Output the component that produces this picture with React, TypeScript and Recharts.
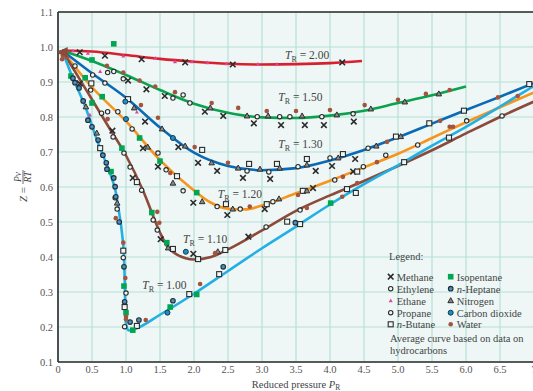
import * as React from 'react';
import { ComposedChart, Line, Scatter, XAxis, YAxis, CartesianGrid, ReferenceLine } from 'recharts';

const FONT = '"Liberation Serif", "DejaVu Serif", serif';
const INK = '#2b2b2b';
const PAPER = '#eef7f5';

const xTicks = [0, 0.5, 1, 1.5, 2, 2.5, 3, 3.5, 4, 4.5, 5, 5.5, 6, 6.5, 7];
const yTicks = [0.1, 0.2, 0.3, 0.4, 0.5, 0.6, 0.7, 0.8, 0.9, 1.0, 1.1];

// average curves, [P_R, Z]
const tr200 = [[0.06, 0.99], [0.5, 0.987], [1.0, 0.977], [1.5, 0.966], [2.0, 0.958], [2.5, 0.952], [3.0, 0.95], [3.5, 0.951], [4.0, 0.954], [4.47, 0.96]];
const tr150 = [[0.06, 0.99], [0.5, 0.96], [1.0, 0.92], [1.5, 0.877], [2.0, 0.838], [2.5, 0.812], [3.0, 0.799], [3.5, 0.797], [4.0, 0.804], [4.5, 0.818], [5.0, 0.84], [5.5, 0.862], [6.0, 0.887]];
const tr130 = [[0.06, 0.99], [0.5, 0.925], [1.0, 0.855], [1.5, 0.77], [2.0, 0.698], [2.5, 0.66], [3.0, 0.648], [3.5, 0.654], [4.0, 0.676], [4.5, 0.706], [5.0, 0.742], [5.5, 0.781], [6.0, 0.82], [6.5, 0.858], [7.0, 0.897]];
const tr120 = [[0.06, 0.99], [0.5, 0.885], [1.0, 0.788], [1.5, 0.677], [2.0, 0.59], [2.25, 0.555], [2.5, 0.538], [2.75, 0.536], [3.0, 0.547], [3.5, 0.582], [4.0, 0.618], [4.5, 0.656], [5.0, 0.695], [5.5, 0.74], [6.0, 0.785], [6.5, 0.828], [7.0, 0.87]];
const tr110 = [[0.06, 0.99], [0.25, 0.93], [0.5, 0.85], [0.75, 0.77], [1.0, 0.69], [1.25, 0.59], [1.5, 0.47], [1.6, 0.432], [1.75, 0.407], [2.0, 0.393], [2.25, 0.4], [2.5, 0.422], [3.0, 0.476], [3.5, 0.532], [4.0, 0.576], [4.5, 0.617], [5.0, 0.66], [5.5, 0.705], [6.0, 0.753], [6.5, 0.8], [7.0, 0.844]];
const tr100 = [[0.06, 0.99], [0.2, 0.92], [0.4, 0.83], [0.6, 0.72], [0.7, 0.672], [0.8, 0.62], [0.85, 0.585], [0.9, 0.525], [0.94, 0.47], [0.97, 0.4], [0.985, 0.3], [0.99, 0.25], [1.0, 0.208], [1.04, 0.19], [1.13, 0.194], [1.5, 0.235], [2.0, 0.295], [2.5, 0.36], [3.0, 0.425], [3.5, 0.487], [4.0, 0.55], [4.5, 0.608], [5.0, 0.662], [5.5, 0.718], [6.0, 0.772], [6.5, 0.83], [7.0, 0.889]];

// measured points per gas
const methane = [[0.32, 0.985], [0.69, 0.975], [1.23, 0.965], [1.87, 0.956], [2.57, 0.95], [4.18, 0.956], [1.03, 0.904], [1.3, 0.879], [1.57, 0.86], [2.16, 0.815], [2.43, 0.803], [2.88, 0.782], [3.28, 0.777], [3.63, 0.777], [3.91, 0.777], [4.35, 0.787], [0.32, 0.896], [1.28, 0.787], [1.77, 0.714], [2.06, 0.669], [2.34, 0.646], [2.72, 0.626], [3.12, 0.623], [3.79, 0.646], [4.03, 0.66], [4.37, 0.68], [0.8, 0.761], [1.25, 0.711], [1.47, 0.658], [1.99, 0.555], [2.49, 0.52], [3.04, 0.537], [3.75, 0.597], [4.34, 0.644], [1.1, 0.626], [1.51, 0.451], [1.99, 0.409], [2.8, 0.458]];
const ethylene = [[0.73, 0.927], [0.82, 0.93], [0.96, 0.909], [1.69, 0.854], [1.84, 0.863], [1.94, 0.84], [2.93, 0.801], [3.26, 0.801], [3.41, 0.801], [3.88, 0.801], [4.34, 0.809], [0.25, 0.946], [0.51, 0.92], [0.69, 0.897], [2.78, 0.646], [3.1, 0.643], [3.53, 0.658], [4.0, 0.683], [4.56, 0.711], [0.84, 0.569], [0.87, 0.537], [0.96, 0.398], [1.0, 0.297], [0.98, 0.201]];
const ethane = [[0.22, 0.989], [0.44, 0.982], [0.96, 0.974], [1.43, 0.968], [1.72, 0.958], [1.97, 0.958], [2.2, 0.955], [2.48, 0.952], [2.94, 0.951], [3.22, 0.951], [1.16, 0.814], [0.47, 0.806], [0.62, 0.93]];
const propane = [[0.48, 0.877], [0.64, 0.811], [0.73, 0.815], [0.88, 0.815], [1.09, 0.766], [1.47, 0.697], [1.59, 0.649], [1.84, 0.589], [2.34, 0.544], [2.68, 0.537], [3.16, 0.558], [4.07, 0.62], [4.49, 0.658], [4.82, 0.691], [5.29, 0.72], [6.01, 0.789], [0.81, 0.743], [0.97, 0.697], [1.06, 0.657], [1.23, 0.591], [1.4, 0.506], [1.46, 0.477], [3.06, 0.486], [3.56, 0.534], [6.53, 0.803]];
const nButane = [[0.49, 0.896], [1.03, 0.851], [2.12, 0.706], [2.81, 0.666], [3.22, 0.666], [3.66, 0.68], [4.19, 0.694], [4.97, 0.744], [5.46, 0.782], [5.97, 0.818], [6.93, 0.894], [1.75, 0.631], [2.47, 0.551], [3.07, 0.551], [3.6, 0.589], [4.4, 0.644], [1.16, 0.614], [1.69, 0.423], [2.06, 0.394], [2.46, 0.42], [4.25, 0.594], [4.38, 0.583], [0.62, 0.711], [0.96, 0.418], [0.98, 0.257], [1.16, 0.203], [1.93, 0.294], [2.37, 0.351], [3.37, 0.501], [3.56, 0.494], [5.09, 0.671], [5.75, 0.741]];
const isopentane = [[0.82, 1.009], [0.5, 0.963], [0.19, 0.917], [0.4, 0.912], [0.65, 0.858], [0.5, 0.84], [1.2, 0.74], [0.94, 0.711], [1.5, 0.674], [0.78, 0.644], [2.04, 0.584], [1.38, 0.527], [1.6, 0.441], [0.97, 0.317], [1.0, 0.241], [1.1, 0.191], [1.65, 0.257], [2.04, 0.293], [4.01, 0.554]];
const nHeptane = [[0.22, 0.911], [0.25, 0.898], [0.31, 0.883], [0.37, 0.846], [0.44, 0.791], [0.5, 0.772], [0.59, 0.734], [0.66, 0.691], [0.71, 0.669], [0.72, 0.651], [0.82, 0.626], [0.84, 0.601], [0.85, 0.572], [0.9, 0.5], [0.97, 0.372], [0.98, 0.272], [1.06, 0.214], [1.19, 0.22], [1.69, 0.275], [2.43, 0.372], [3.49, 0.498]];
const nitrogen = [[2.24, 0.826], [2.78, 0.803], [3.09, 0.803], [3.59, 0.803], [4.1, 0.806], [4.6, 0.823], [5.1, 0.843], [5.6, 0.866], [1.12, 0.826], [1.53, 0.766], [1.87, 0.717], [2.26, 0.669], [2.65, 0.654], [2.97, 0.651], [3.26, 0.654], [3.66, 0.663], [4.12, 0.683], [4.68, 0.717], [5.04, 0.744], [1.32, 0.714], [1.69, 0.611], [2.12, 0.558], [2.57, 0.537], [3.25, 0.566], [3.66, 0.589], [1.62, 0.426], [2.35, 0.415], [0.41, 0.829], [0.57, 0.754], [0.87, 0.554]];
const carbonDioxide = [[1.69, 0.74], [1.0, 0.794], [1.88, 0.415], [1.61, 0.241], [0.99, 0.844]];
const water = [[0.04, 0.985], [0.07, 0.975], [0.1, 0.985], [0.06, 0.965], [0.13, 0.97], [0.72, 0.946], [0.96, 0.927], [1.2, 0.904], [1.43, 0.887], [1.72, 0.871], [2.26, 0.84], [2.65, 0.826], [3.07, 0.817], [3.5, 0.817], [4.0, 0.82], [4.51, 0.834], [5.0, 0.849], [5.41, 0.866], [5.76, 0.877], [1.22, 0.834], [1.47, 0.798], [2.01, 0.714], [2.5, 0.669], [4.84, 0.729], [5.62, 0.789], [6.47, 0.856], [0.73, 0.794], [1.65, 0.64], [2.82, 0.544], [3.53, 0.577], [4.19, 0.629], [4.69, 0.671], [5.76, 0.772], [5.81, 0.772], [6.76, 0.86], [1.46, 0.529], [1.49, 0.498], [2.31, 0.411], [3.66, 0.54], [4.18, 0.572], [4.4, 0.611], [0.85, 0.511], [0.96, 0.441], [0.99, 0.34], [1.0, 0.229], [1.0, 0.222], [1.29, 0.22], [2.09, 0.323]];
const origin = [[0.07, 0.983]];

const curveLabels = [
  { p: 3.34, z: 0.977, t: '2.00' },
  { p: 3.24, z: 0.857, t: '1.50' },
  { p: 3.24, z: 0.723, t: '1.30' },
  { p: 2.35, z: 0.58, t: '1.20' },
  { p: 1.84, z: 0.451, t: '1.10' },
  { p: 1.24, z: 0.32, t: '1.00' },
];

const pts = (a: number[][]) => a.map(([p, z]) => ({ p, z }));

const curves = [
  { key: '2.00', data: tr200, color: '#d81f2e' },
  { key: '1.50', data: tr150, color: '#0aa24d' },
  { key: '1.30', data: tr130, color: '#0b6ab5' },
  { key: '1.20', data: tr120, color: '#f7941d' },
  { key: '1.10', data: tr110, color: '#8c4a3b' },
  { key: '1.00', data: tr100, color: '#22b0e4' },
];

type Pt = { cx?: number; cy?: number };

const CrossMark = ({ cx = 0, cy = 0 }: Pt) => (
  <path d={`M${cx - 2.8},${cy - 2.8}L${cx + 2.8},${cy + 2.8}M${cx + 2.8},${cy - 2.8}L${cx - 2.8},${cy + 2.8}`} stroke={INK} strokeWidth={1.6} />
);
const RingMark = ({ cx = 0, cy = 0 }: Pt) => <circle cx={cx} cy={cy} r={2.2} fill={PAPER} stroke={INK} strokeWidth={1.1} />;
const HeptaneMark = ({ cx = 0, cy = 0 }: Pt) => <circle cx={cx} cy={cy} r={2.3} fill="#4b90b8" stroke="#1f2d3a" strokeWidth={1.1} />;
const EthaneMark = ({ cx = 0, cy = 0 }: Pt) => <path d={`M${cx},${cy - 2.2}L${cx + 2},${cy + 1.5}L${cx - 2},${cy + 1.5}Z`} fill="#d9489b" />;
const ButaneMark = ({ cx = 0, cy = 0 }: Pt) => <rect x={cx - 2.5} y={cy - 2.5} width={5} height={5} fill={PAPER} stroke={INK} strokeWidth={1.1} />;
const PentaneMark = ({ cx = 0, cy = 0 }: Pt) => <rect x={cx - 2.8} y={cy - 2.8} width={5.6} height={5.6} fill="#00a651" />;
const NitrogenMark = ({ cx = 0, cy = 0 }: Pt) => <path d={`M${cx},${cy - 3}L${cx + 2.8},${cy + 2}L${cx - 2.8},${cy + 2}Z`} fill="#8a8a8a" stroke={INK} strokeWidth={1} />;
const CO2Mark = ({ cx = 0, cy = 0 }: Pt) => <circle cx={cx} cy={cy} r={2.5} fill="#1d8fc6" stroke="#1b3646" strokeWidth={1} />;
const WaterMark = ({ cx = 0, cy = 0 }: Pt) => <circle cx={cx} cy={cy} r={2.3} fill="#a3543f" />;
const OriginMark = ({ cx = 0, cy = 0 }: Pt) => <path d={`M${cx - 6},${cy - 1}L${cx + 5},${cy - 6}L${cx + 5},${cy + 5}Z`} fill="#8c4a3b" />;

const gases = [
  { name: 'Methane', data: methane, Mark: CrossMark },
  { name: 'Ethylene', data: ethylene, Mark: RingMark },
  { name: 'Ethane', data: ethane, Mark: EthaneMark },
  { name: 'Propane', data: propane, Mark: RingMark },
  { name: '-Butane', italic: 'n', data: nButane, Mark: ButaneMark },
  { name: 'Isopentane', data: isopentane, Mark: PentaneMark },
  { name: '-Heptane', italic: 'n', data: nHeptane, Mark: HeptaneMark },
  { name: 'Nitrogen', data: nitrogen, Mark: NitrogenMark },
  { name: 'Carbon dioxide', data: carbonDioxide, Mark: CO2Mark },
  { name: 'Water', data: water, Mark: WaterMark },
];

const CurveLabel = (props: any) => {
  const { cx = 0, cy = 0 } = props;
  const t = props.payload?.t ?? props.t;
  return (
    <text x={cx} y={cy + 4} fontFamily={FONT} fontSize={11.5} fill="#444">
      <tspan fontStyle="italic">T</tspan>
      <tspan fontSize={8} dy={3}>R</tspan>
      <tspan dy={-3}>{` = ${t}`}</tspan>
    </text>
  );
};

const XLabel = (props: any) => {
  const vb = props.viewBox || {};
  const cx = vb.x + vb.width / 2;
  return (
    <text x={cx} y={388} textAnchor="middle" fontFamily={FONT} fontSize={10.5} fill="#444">
      Reduced pressure <tspan fontStyle="italic">P</tspan>
      <tspan fontSize={7.5} dy={2}>R</tspan>
    </text>
  );
};

const YLabel = () => (
  <g transform="translate(23,186) rotate(-90)" fontFamily={FONT} fill="#444">
    <text x={-16} y={4} fontSize={11}>
      <tspan fontStyle="italic">Z</tspan> =
    </text>
    <text x={9} y={-2} fontSize={9.5} fontStyle="italic" textAnchor="middle">Pv</text>
    <line x1={2} x2={16} y1={0} y2={0} stroke="#444" strokeWidth={0.8} />
    <text x={9} y={8} fontSize={9.5} fontStyle="italic" textAnchor="middle">RT</text>
  </g>
);

const fmtX = (v: number) => (v === 0 || v === 7 ? String(v) : v.toFixed(1));

function ChartLegend() {
  const rows = [31.7, 43.7, 55.7, 67.7, 79.3];
  return (
    <svg width={150} height={112} style={{ position: 'absolute', left: 383, top: 245 }} fontFamily={FONT}>
      <text x={6} y={15} fontSize={10.5} fill="#444">Legend:</text>
      {gases.map((g, i) => {
        const col = i < 5 ? 0 : 1;
        const y = rows[i % 5];
        const mx = col === 0 ? 7.7 : 67.7;
        const M = g.Mark;
        return (
          <g key={g.name}>
            <M cx={mx} cy={y} />
            <text x={mx + 6} y={y + 3.8} fontSize={10.5} fill="#444">
              {g.italic ? <tspan fontStyle="italic">{g.italic}</tspan> : null}
              {g.name}
            </text>
          </g>
        );
      })}
      <text x={7} y={97} fontSize={10.5} fill="#444">Average curve based on data on</text>
      <text x={7} y={108.5} fontSize={10.5} fill="#444">hydrocarbons</text>
    </svg>
  );
}

export default function App() {
  return (
    <div style={{ position: 'absolute', left: 0, top: 0, width: 533, height: 391, overflow: 'hidden', background: '#fff' }}>
      <ComposedChart width={540} height={391} margin={{ top: 12, right: 6, bottom: 0, left: 0 }}>
        <CartesianGrid stroke="#b6e0d7" strokeWidth={1.2} fill={PAPER} fillOpacity={1} />
        <XAxis
          type="number"
          dataKey="p"
          domain={[0, 7]}
          ticks={xTicks}
          tickFormatter={fmtX}
          interval={0}
          height={29}
          tickLine={false}
          tickSize={2}
          tickMargin={2}
          axisLine={{ stroke: INK, strokeWidth: 1.6 }}
          tick={{ fontFamily: FONT, fontSize: 10.5, fill: '#555' }}
          allowDataOverflow
          label={<XLabel />}
        />
        <YAxis
          type="number"
          dataKey="z"
          domain={[0.1, 1.1]}
          ticks={yTicks}
          tickFormatter={(v: number) => v.toFixed(1)}
          interval={0}
          width={58}
          tickLine={false}
          tickSize={3}
          tickMargin={2}
          axisLine={{ stroke: INK, strokeWidth: 1.6 }}
          tick={{ fontFamily: FONT, fontSize: 10.5, fill: '#555' }}
          allowDataOverflow
          label={<YLabel />}
        />
        <ReferenceLine y={1.1} stroke={INK} strokeWidth={1.6} />
        {curves.map((c) => (
          <Line
            key={c.key}
            data={pts(c.data)}
            dataKey="z"
            type="monotone"
            stroke={c.color}
            strokeWidth={2.6}
            dot={false}
            activeDot={false}
            isAnimationActive={false}
          />
        ))}
        {gases.map((g) => {
          const M = g.Mark;
          return (
            <Scatter
              key={g.name}
              data={pts(g.data)}
              dataKey="z"
              shape={(s: any) => <M cx={s.cx} cy={s.cy} />}
              isAnimationActive={false}
            />
          );
        })}
        <Scatter data={pts(origin)} dataKey="z" shape={(s: any) => <OriginMark cx={s.cx} cy={s.cy} />} isAnimationActive={false} />
        <Scatter data={curveLabels} dataKey="z" shape={(s: any) => <CurveLabel {...s} />} isAnimationActive={false} />
      </ComposedChart>
      <ChartLegend />
    </div>
  );
}
